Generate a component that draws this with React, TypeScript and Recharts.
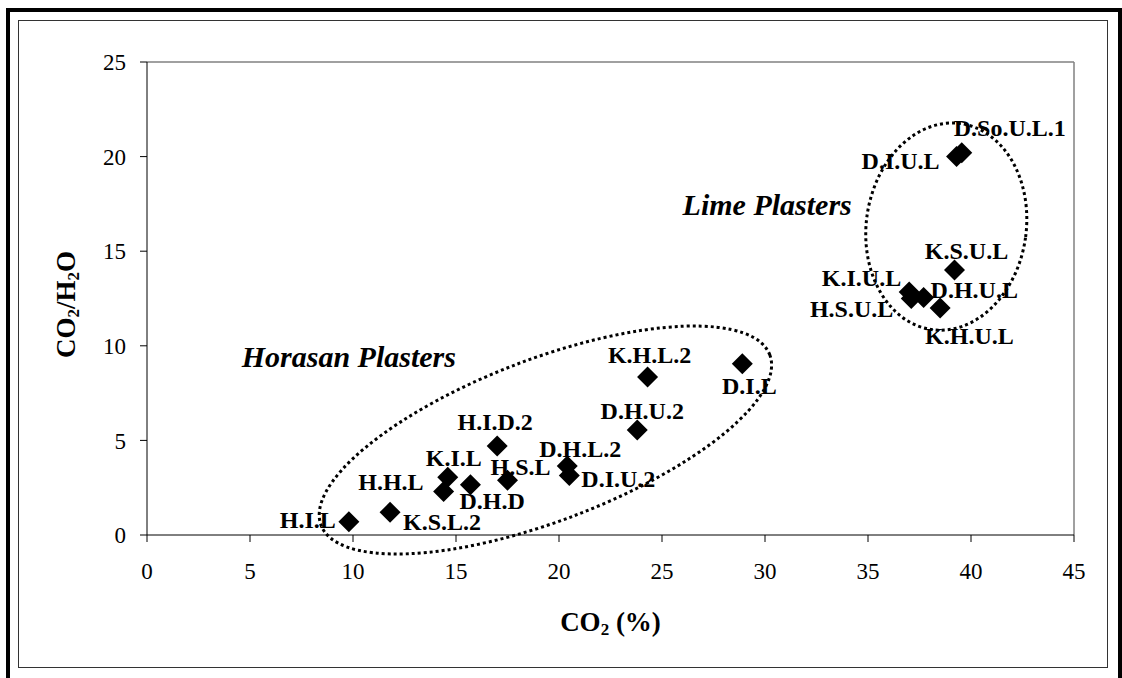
import {
  ScatterChart,
  Scatter,
  XAxis,
  YAxis,
  ReferenceLine,
  ReferenceDot,
} from "recharts";

// sample codes with CO2 (%) and CO2/H2O ratio
const sampleNames = [
  "H.I.L", "K.S.L.2", "H.H.L", "K.I.L", "D.H.D", "H.I.D.2", "H.S.L",
  "D.H.L.2", "D.I.U.2", "D.H.U.2", "K.H.L.2", "D.I.L",
  "K.S.U.L", "K.I.U.L", "H.S.U.L", "D.H.U.L", "K.H.U.L", "D.I.U.L", "D.So.U.L.1",
];
const co2Values = [
  9.8, 11.8, 14.4, 14.6, 15.7, 17.0, 17.5,
  20.4, 20.5, 23.8, 24.3, 28.9,
  39.2, 37.0, 37.1, 37.7, 38.5, 39.3, 39.55,
];
const ratioValues = [
  0.7, 1.2, 2.3, 3.05, 2.65, 4.7, 2.9,
  3.65, 3.15, 5.55, 8.35, 9.05,
  14.0, 12.85, 12.5, 12.55, 12.0, 20.0, 20.2,
];

const xTicks = [0, 5, 10, 15, 20, 25, 30, 35, 40, 45];
const yTicks = [0, 5, 10, 15, 20, 25];

const groupNames = ["Horasan Plasters", "Lime Plasters"];
const groupCenterX = [19.34, 38.8];
const groupCenterY = [5.02, 16.3];
const groupTitleX = [4.6, 26.0];
const groupTitleY = [8.9, 16.9];

const data = sampleNames.map((name, i) => ({
  name,
  co2: co2Values[i],
  ratio: ratioValues[i],
}));

const FONT = "'Liberation Serif', 'Times New Roman', serif";

// label placement around each marker (pixels)
const labelPos: Record<string, [number, number, "start" | "middle" | "end"]> = {
  "H.I.L": [-13, 6, "end"],
  "K.S.L.2": [13, 18, "start"],
  "H.H.L": [-20, -1, "end"],
  "K.I.L": [6, -11, "middle"],
  "D.H.D": [-11, 24, "start"],
  "H.I.D.2": [-2, -16, "middle"],
  "H.S.L": [-17, -5, "start"],
  "D.H.L.2": [-28, -9, "start"],
  "D.I.U.2": [12, 12, "start"],
  "D.H.U.2": [5, -11, "middle"],
  "K.H.L.2": [2, -14, "middle"],
  "D.I.L": [7, 30, "middle"],
  "K.S.U.L": [12, -11, "middle"],
  "K.I.U.L": [-8, -6, "end"],
  "H.S.U.L": [-18, 18, "end"],
  "D.H.U.L": [7, 0, "start"],
  "K.H.U.L": [-15, 36, "start"],
  "D.I.U.L": [-17, 12, "end"],
  "D.So.U.L.1": [-8, -17, "start"],
};

// oval outlines: [rx, ry, rotation]
const ovalShape: [number, number, number][] = [
  [240, 81, -20.8],
  [80, 104, 8],
];

const DiamondPoint = (props: any) => {
  const { cx, cy, payload } = props;
  if (cx == null || cy == null) return null;
  const r = 10.5;
  const [dx, dy, anchor] = labelPos[payload.name] || [0, -12, "middle"];
  return (
    <g>
      <polygon
        points={`${cx},${cy - r} ${cx + r},${cy} ${cx},${cy + r} ${cx - r},${cy}`}
        fill="#000"
      />
      <text
        x={cx + dx}
        y={cy + dy}
        textAnchor={anchor}
        fontFamily={FONT}
        fontWeight="bold"
        fontSize={24}
        fill="#000"
      >
        {payload.name}
      </text>
    </g>
  );
};

export default function App() {
  return (
    <div
      style={{
        position: "absolute",
        left: 0,
        top: 0,
        width: 1122,
        height: 678,
        overflow: "hidden",
        background: "#fff",
      }}
    >
      <div
        style={{
          position: "absolute",
          left: 6,
          top: 8,
          width: 1108,
          height: 700,
          border: "4px solid #000",
        }}
      />
      <div
        style={{
          position: "absolute",
          left: 18,
          top: 20,
          width: 1088,
          height: 646,
          border: "1px solid #333",
        }}
      />
      <div style={{ position: "absolute", left: 0, top: 0 }}>
        <ScatterChart
          width={1122}
          height={678}
          margin={{ top: 62, right: 48, bottom: 103, left: 87 }}
        >
          <XAxis
            type="number"
            dataKey="co2"
            domain={[0, 45]}
            ticks={xTicks}
            interval={0}
            height={40}
            tickSize={7}
            tickMargin={21}
            stroke="#000"
            tick={{ fill: "#000", fontFamily: FONT, fontSize: 23 }}
            label={{
              content: (p: any) => {
                const vb = p.viewBox || {};
                return (
                  <text
                    x={vb.x + vb.width / 2}
                    y={vb.y + 96}
                    textAnchor="middle"
                    fontFamily={FONT}
                    fontWeight="bold"
                    fontSize={27}
                    fill="#000"
                  >
                    CO<tspan fontSize={17} dy={4}>2</tspan>
                    <tspan dy={-4}> (%)</tspan>
                  </text>
                );
              },
            }}
          />
          <YAxis
            type="number"
            dataKey="ratio"
            domain={[0, 25]}
            ticks={yTicks}
            interval={0}
            width={60}
            tickSize={7}
            tickMargin={14}
            stroke="#000"
            tick={{ fill: "#000", fontFamily: FONT, fontSize: 23 }}
            label={{
              content: (p: any) => {
                const vb = p.viewBox || {};
                const x = 75;
                const y = vb.y + vb.height / 2 + 6;
                return (
                  <text
                    x={x}
                    y={y}
                    transform={`rotate(-90 ${x} ${y})`}
                    textAnchor="middle"
                    fontFamily={FONT}
                    fontWeight="bold"
                    fontSize={27}
                    fill="#000"
                  >
                    CO<tspan fontSize={17} dy={4}>2</tspan>
                    <tspan dy={-4}>/H</tspan>
                    <tspan fontSize={17} dy={4}>2</tspan>
                    <tspan dy={-4}>O</tspan>
                  </text>
                );
              },
            }}
          />
          <ReferenceLine y={25} stroke="#808080" strokeWidth={1.5} />
          <ReferenceLine x={45} stroke="#808080" strokeWidth={1.5} />
          {groupNames.map((g, i) => (
            <ReferenceDot
              key={`oval-${g}`}
              x={groupCenterX[i]}
              y={groupCenterY[i]}
              ifOverflow="visible"
              shape={(p: any) => (
                <ellipse
                  cx={p.cx}
                  cy={p.cy}
                  rx={ovalShape[i][0]}
                  ry={ovalShape[i][1]}
                  transform={`rotate(${ovalShape[i][2]} ${p.cx} ${p.cy})`}
                  fill="none"
                  stroke="#000"
                  strokeWidth={3}
                  strokeDasharray="3 3"
                />
              )}
            />
          ))}
          {groupNames.map((g, i) => (
            <ReferenceDot
              key={`title-${g}`}
              x={groupTitleX[i]}
              y={groupTitleY[i]}
              ifOverflow="visible"
              shape={(p: any) => (
                <text
                  x={p.cx}
                  y={p.cy}
                  textAnchor="start"
                  fontFamily={FONT}
                  fontWeight="bold"
                  fontStyle="italic"
                  fontSize={30}
                  fill="#000"
                >
                  {g}
                </text>
              )}
            />
          ))}
          <Scatter
            data={data}
            dataKey="ratio"
            isAnimationActive={false}
            shape={DiamondPoint}
          />
        </ScatterChart>
      </div>
    </div>
  );
}
